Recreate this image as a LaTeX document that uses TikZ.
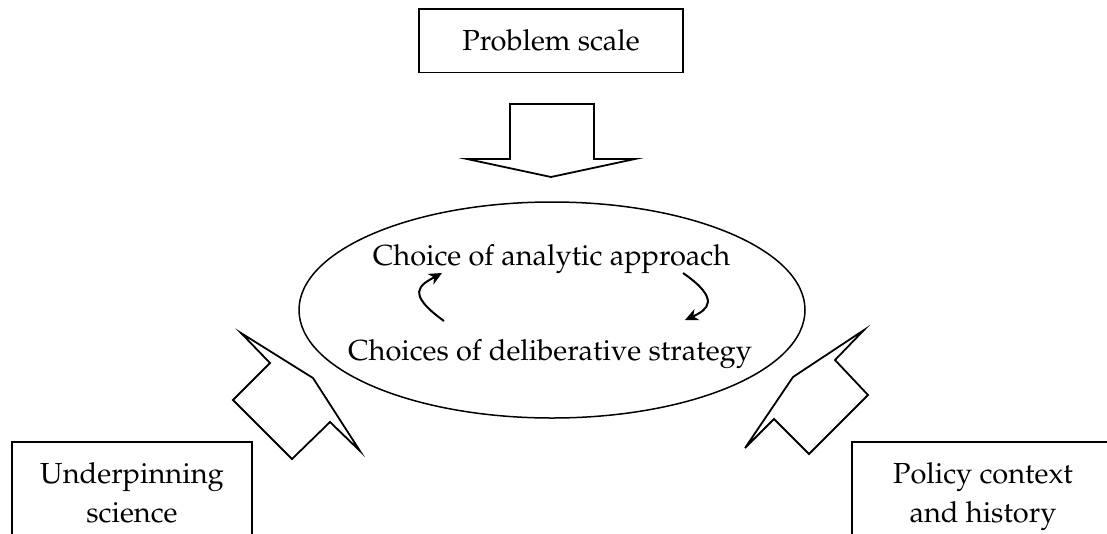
\documentclass[tikz,border=0pt]{standalone}
\usepackage[T1]{fontenc}
\usepackage{mathpazo}
\usetikzlibrary{shapes.geometric,arrows.meta}
\tikzset{
  txt/.style={font=\fontsize{29}{39}\selectfont},
  boxnode/.style={draw, line width=1.8pt, rectangle, txt, align=center, inner xsep=0pt, inner ysep=21pt, anchor=north},
  blockarrow/.style={draw, line width=1.8pt, line join=miter, fill=white},
  cyclearrow/.style={line width=2pt, -{Stealth[length=13pt,width=12pt,inset=4pt]}},
}
\begin{document}
\begin{tikzpicture}[x=1pt,y=-1pt]
\clip (0,0) rectangle (1107,533);
\fill[white] (0,0) rectangle (1107,533);

% boxes
\node[boxnode, minimum width=264pt] (scale) at (551,8) {Problem scale};
\node[boxnode, minimum width=240pt] (science) at (132,441) {Underpinning\\science};
\node[boxnode, minimum width=262pt] (policy) at (983,441) {Policy context\\and history};

% central ellipse
\node[draw, ellipse, line width=1.5pt, minimum width=506pt, minimum height=216pt, inner sep=0pt] (core) at (552,310) {};
\node[txt, anchor=base] (analytic) at (551.5,265) {Choice of analytic approach};
\node[txt, anchor=base] (deliberative) at (550,360) {Choices of deliberative strategy};

% cycle arrows
\coordinate (la) at (444,321);
\coordinate (lb) at (442,273);
\coordinate (ra) at (683,273);
\coordinate (rb) at (685,320);
\draw[cyclearrow] (la) .. controls (405,293) and (420,285) .. (lb);
\draw[cyclearrow] (ra) .. controls (722,300) and (707,310) .. (rb);

% block arrows
\draw[blockarrow] (510,104) -- (594,104) -- (594,159) -- (635,159) -- (551,177) -- (467,159) -- (510,159) -- cycle;
\draw[blockarrow] (360,451) -- (330,422) -- (292,459) -- (233,400) -- (270,363) -- (241,333) -- (313,378) -- cycle;
\draw[blockarrow] (864,330) -- (835,360) -- (868,395) -- (809,454) -- (774,419) -- (745,448) -- (793,377) -- cycle;
\end{tikzpicture}
\end{document}
